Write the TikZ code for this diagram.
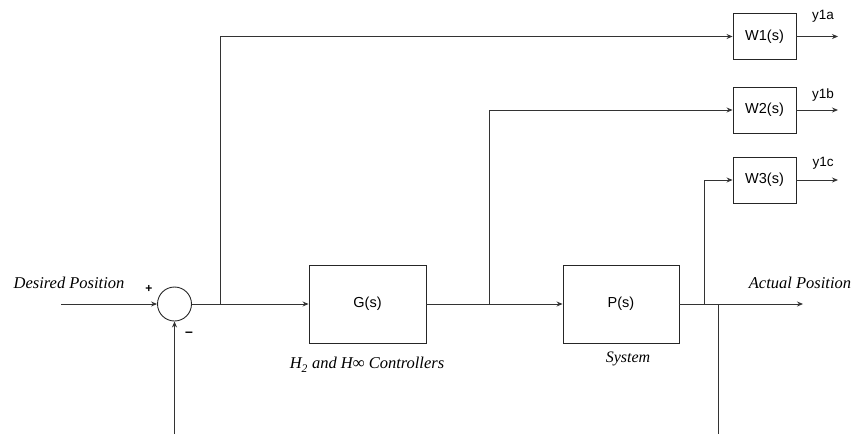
\documentclass[tikz,border=0pt]{standalone}
\usepackage{fontspec}
\setmainfont{Liberation Serif}
\setsansfont{Liberation Sans}
\usetikzlibrary{arrows.meta}
\begin{document}
\begin{tikzpicture}[x=1pt,y=-1pt,
  line width=0.9pt,
  wire/.style={draw=black!80},
  arr/.style={wire,-{Stealth[length=6pt,width=5pt]}},
  blk/.style={draw=black!85,rectangle,inner sep=0pt,font=\sffamily\fontsize{14.5}{16}\selectfont},
  wblk/.style={blk,minimum width=63pt,minimum height=46pt},
  lbl/.style={font=\sffamily\fontsize{13.5}{15}\selectfont,inner sep=0pt},
  itl/.style={font=\itshape\fontsize{16.5}{19}\selectfont,inner sep=0pt}]
\useasboundingbox (0,0) rectangle (851,434);
% nodes
\node[draw=black!85,circle,minimum size=34pt,inner sep=0pt] (sum) at (174.5,304) {};
\node[blk,minimum width=117pt,minimum height=78pt] (G) at (367.5,304) {G(s)};
\node[blk,minimum width=116pt,minimum height=78pt] (P) at (621,304) {P(s)};
\node[wblk] (W1) at (764.5,36.5) {W1(s)};
\node[wblk] (W2) at (764.5,110) {W2(s)};
\node[wblk] (W3) at (764.5,180) {W3(s)};
% coordinates
\coordinate (in) at (61,304);
\coordinate (b1) at (220,304);
\coordinate (b2) at (489,304);
\coordinate (b3) at (704,304);
\coordinate (b4) at (718,304);
\coordinate (out) at (803,304);
\coordinate (fbs) at (174.5,434);
\coordinate (fbe) at (718,434);
\coordinate (o1) at (838,36.5);
\coordinate (o2) at (838,110);
\coordinate (o3) at (838,180);
% connectors
\draw[arr] (in) -- (sum.west);
\draw[arr] (fbs) -- (sum.south);
\draw[arr] (sum.east) -- (G.west);
\draw[arr] (b1) |- (W1.west);
\draw[arr] (G.east) -- (P.west);
\draw[arr] (b2) |- (W2.west);
\draw[arr] (P.east) -- (out);
\draw[arr] (b3) |- (W3.west);
\draw[wire] (b4) -- (fbe);
\draw[arr] (W1.east) -- (o1);
\draw[arr] (W2.east) -- (o2);
\draw[arr] (W3.east) -- (o3);
% labels
\node[itl] (dp) at (69,283) {Desired Position};
\node[itl] (ap) at (800,283) {Actual Position};
\node[itl,font=\itshape\fontsize{16.5}{19}\selectfont] (ctl) at (367,365) {H\textsubscript{\raisebox{-1.5pt}{2}} and H∞ Controllers};
\node[itl,font=\itshape\fontsize{16}{19}\selectfont] (sys) at (628,359) {System};
\node[font=\sffamily\bfseries\fontsize{12}{14}\selectfont,inner sep=0pt] (plus) at (149,289) {+};
\node[font=\sffamily\bfseries\fontsize{14}{14}\selectfont,inner sep=0pt] (minus) at (189,334) {–};
\node[lbl] (y1a) at (823,16) {y1a};
\node[lbl] (y1b) at (823,95) {y1b};
\node[lbl] (y1c) at (823,163) {y1c};
\end{tikzpicture}
\end{document}
